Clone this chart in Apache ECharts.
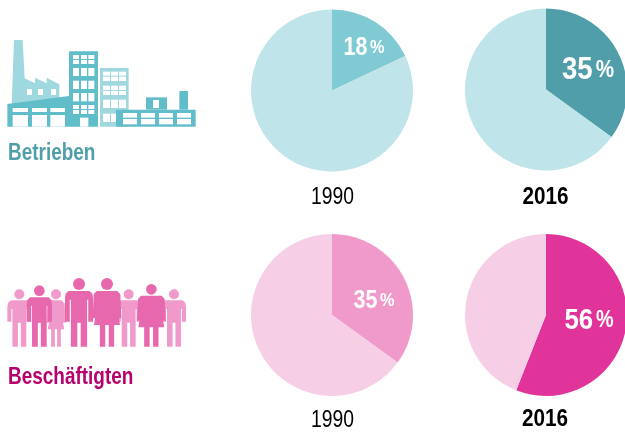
<!DOCTYPE html>
<html>
<head>
<meta charset="utf-8">
<style>
  html, body { margin: 0; padding: 0; background: #fff; }
  #chart { width: 625px; height: 432px; }
</style>
<script src="https://cdn.jsdelivr.net/npm/echarts@6/dist/echarts.min.js"></script>
</head>
<body>
<div id="chart"></div>
<script>
const years = ["1990", "2016"];
const betriebenShares = [18, 35];
const beschaeftigtenShares = [35, 56];
const groupLabels = ["Betrieben", "Beschäftigten"];

const FONT = '"Liberation Sans", sans-serif';
const TEAL_LIGHT = "#bfe4ea", PINK_LIGHT = "#f6cfe6";

function pie(cx, cy, share, color, rest) {
  return {
    type: "pie",
    center: [cx, cy],
    radius: [0, 81],
    startAngle: 90,
    silent: true,
    animation: false,
    label: { show: false },
    labelLine: { show: false },
    data: [
      { value: share, itemStyle: { color } },
      { value: 100 - share, itemStyle: { color: rest } },
    ],
  };
}

// no narrow font installed, so all text gets squeezed with scaleX
function label(text, x, y, size, weight, fill, squeeze, align) {
  return {
    type: "text",
    x,
    y,
    z: 10,
    scaleX: squeeze,
    silent: true,
    style: {
      text,
      fill,
      font: weight + " " + size + "px " + FONT,
      textAlign: align || "center",
      textVerticalAlign: "middle",
    },
  };
}

// share label: big digits, thin gap, smaller percent sign
function pctLabel(share, x, y, size) {
  const item = label("", x, y, size, "bold", "#fff", 0.86);
  item.style.text = "{n|" + share + "}{s| }{p|%}";
  item.style.rich = {
    n: { font: "bold " + size + "px " + FONT, fill: "#fff", verticalAlign: "middle" },
    s: { font: "bold " + Math.round(size * 0.4) + "px " + FONT, fill: "#fff", verticalAlign: "middle" },
    p: { font: "bold " + Math.round(size * 0.76) + "px " + FONT, fill: "#fff", verticalAlign: "middle" },
  };
  return item;
}

// icon parts, drawn in a 3x space and scaled down by the group
const rect = (x0, y0, x1, y1, fill) => ({
  type: "rect",
  shape: { x: x0, y: y0, width: x1 - x0, height: y1 - y0 },
  style: { fill },
});
const poly = (points, fill) => ({ type: "polygon", shape: { points }, style: { fill } });

function windows(cols, rows, fill) {
  const out = [];
  rows.forEach((r) => cols.forEach((c) => out.push(rect(c[0], r[0], c[1], r[1], fill))));
  return out;
}

function factoryIcon() {
  const light = "#a0d8df", dark = "#62bdcb", w = "#fff";
  const mainCols = [[219, 237], [243, 261], [265, 283]];
  const lightCols = [[309, 330], [333, 354], [357, 378]];
  const lowCols = [[369, 411], [423, 465], [477, 519], [531, 573]];
  const hallCols = [[38, 84], [96, 141], [151, 195]];
  return [
    poly([[42, 30], [68, 30], [74, 145], [105, 160], [105, 143], [140, 160], [140, 143], [178, 163], [178, 210], [35, 225]], light),
    ...windows([[81, 96], [114, 129], [153, 168]], [[177, 195]], w),
    rect(300, 114, 386, 290, light),
    ...windows(lightCols, [[125, 137], [140, 153], [167, 180], [183, 195], [209, 234]], w),
    ...windows(lightCols.slice(0, 2), [[251, 276]], w),
    poly([[22, 222], [207, 198], [207, 64], [294, 64], [294, 290], [22, 290]], dark),
    ...windows(hallCols, [[234, 246], [255, 290]], w),
    ...windows(mainCols, [[75, 87], [90, 102], [114, 138], [152, 177], [189, 214], [225, 237], [240, 252]], w),
    rect(240, 263, 265, 290, w),
    rect(348, 239, 587, 290, dark),
    rect(438, 202, 501, 239, dark),
    rect(538, 183, 564, 239, dark),
    rect(459, 210, 477, 234, w),
    ...windows(lowCols, [[249, 263], [267, 283]], w),
  ];
}

function man(cx, headY, headR, top, w, fill) {
  const bottom = 230, crotch = 158, arm = 155;
  const aw = w * 0.34, gap = w * 0.12, hip = w * 0.58;
  return [
    { type: "circle", shape: { cx, cy: headY, r: headR }, style: { fill } },
    poly([
      [cx - w + 10, top], [cx + w - 10, top], [cx + w - 2, top + 8], [cx + w, top + 20], [cx + w, arm],
      [cx + w - aw, arm], [cx + w - aw, top + 26], [cx + hip, top + 26], [cx + hip, bottom],
      [cx + gap, bottom], [cx + gap, crotch], [cx - gap, crotch], [cx - gap, bottom],
      [cx - hip, bottom], [cx - hip, top + 26], [cx - w + aw, top + 26], [cx - w + aw, arm],
      [cx - w, arm], [cx - w, top + 20], [cx - w + 2, top + 8],
    ], fill),
  ];
}

function woman(cx, headY, headR, top, w, hem, fill) {
  const bottom = 230, legOut = w * 0.5, legIn = w * 0.12, arm = hem - 20;
  return [
    { type: "circle", shape: { cx, cy: headY, r: headR }, style: { fill } },
    poly([
      [cx - w + 12, top], [cx + w - 12, top], [cx + w - 3, top + 10], [cx + w, arm],
      [cx + w - 12, arm], [cx + w - 15, top + 32], [cx + w - 4, hem], [cx + legOut, hem],
      [cx + legOut, bottom], [cx + legIn, bottom], [cx + legIn, hem], [cx - legIn, hem],
      [cx - legIn, bottom], [cx - legOut, bottom], [cx - legOut, hem], [cx - w + 4, hem],
      [cx - w + 15, top + 32], [cx - w + 12, arm], [cx - w, arm], [cx - w + 3, top + 10],
    ], fill),
  ];
}

function peopleIcon() {
  const light = "#f09acb", dark = "#e868ae";
  return [
    ...man(58, 73, 15, 91, 36, light),
    ...woman(168, 73, 15, 91, 29, 178, light),
    ...man(386, 73, 15, 91, 36, light),
    ...man(522, 73, 15, 91, 36, light),
    ...man(118, 62, 16, 82, 38, dark),
    ...man(237, 42, 18, 63, 42, dark),
    ...woman(321, 42, 18, 63, 43, 165, dark),
    ...woman(454, 58, 16, 77, 43, 172, dark),
  ];
}

const chart = echarts.init(document.getElementById("chart"), null, { renderer: "canvas" });
chart.setOption({
  animation: false,
  series: [
    pie(332, 90.5, betriebenShares[0], "#80cad3", TEAL_LIGHT),
    pie(546, 89.5, betriebenShares[1], "#519eab", TEAL_LIGHT),
    pie(332, 315, beschaeftigtenShares[0], "#f09acb", PINK_LIGHT),
    pie(546, 315, beschaeftigtenShares[1], "#e0349a", PINK_LIGHT),
  ],
  graphic: [
    { type: "group", x: 0, y: 30, scaleX: 1 / 3, scaleY: 1 / 3, silent: true, children: factoryIcon() },
    { type: "group", x: 0, y: 270, scaleX: 1 / 3, scaleY: 1 / 3, silent: true, children: peopleIcon() },
    label(groupLabels[0], 8, 153, 24, "bold", "#519eab", 0.79, "left"),
    label(groupLabels[1], 8, 377, 24, "bold", "#b5006e", 0.79, "left"),
    label(years[0], 332.5, 198, 23, "normal", "#000", 0.84),
    label(years[1], 545.5, 198, 23, "bold", "#000", 0.9),
    label(years[0], 332.5, 421, 23, "normal", "#000", 0.84),
    label(years[1], 545, 420, 23, "bold", "#000", 0.9),
    pctLabel(betriebenShares[0], 364, 48, 25),
    pctLabel(betriebenShares[1], 588, 70, 32),
    pctLabel(beschaeftigtenShares[0], 374, 301, 25),
    pctLabel(beschaeftigtenShares[1], 589, 321, 30),
  ],
});
</script>
</body>
</html>
